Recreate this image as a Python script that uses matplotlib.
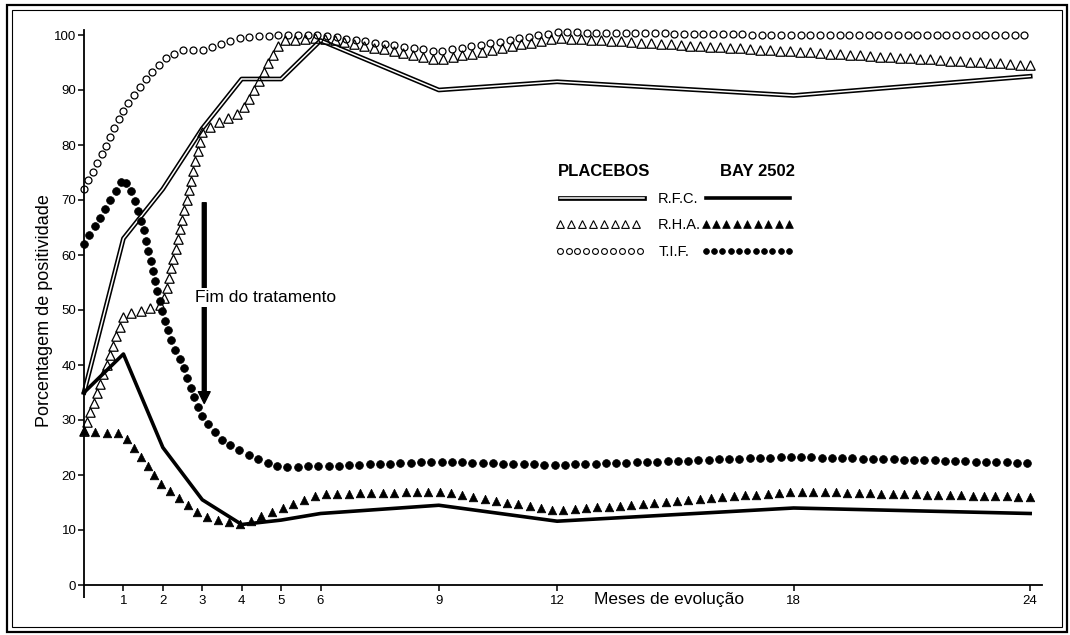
import numpy as np
import matplotlib
matplotlib.use('Agg')
import matplotlib.pyplot as plt
from matplotlib import patheffects
from matplotlib.lines import Line2D
from matplotlib.markers import MarkerStyle
from matplotlib.path import Path
from matplotlib.patches import Rectangle
from matplotlib.transforms import IdentityTransform

plt.rcParams['font.family'] = ['Liberation Sans', 'DejaVu Sans']

# values: months after start -> % positive
rfc_placebo_months = [0, 1, 2, 3, 4, 5, 6, 9, 12, 18, 24]
rfc_placebo = [35, 63, 72, 83, 92, 92, 99, 90, 91.5, 89, 92.5]

rfc_bay_months = [0, 1, 2, 3, 4, 5, 6, 9, 12, 18, 24]
rfc_bay = [35, 42, 25, 15.5, 11, 11.8, 13, 14.5, 11.6, 14, 13]

rha_placebo_months = [0, 1, 2, 3, 3.5, 4, 5, 6, 9, 12, 18, 24]
rha_placebo = [28, 49, 51, 82.5, 84.5, 86, 99, 99.5, 95.5, 99.5, 97, 94.5]

rha_bay_months = [0, 1, 2, 3, 4, 5, 6, 9, 12, 18, 24]
rha_bay = [28, 27.5, 18, 12.5, 11, 14, 16.5, 17, 13.5, 17, 16]

tif_placebo_months = [0, 0.5, 1, 1.5, 2, 2.5, 3, 4, 5, 6, 9, 12, 18, 24]
tif_placebo = [72, 79, 86.5, 91.5, 95.5, 97.3, 97.3, 99.6, 100, 100, 97, 100.5, 100, 100]

tif_bay_months = [0, 1, 1.25, 1.5, 1.75, 2, 2.25, 2.5, 2.75, 3, 3.5, 4, 4.5, 5, 6, 9, 12, 18, 24]
tif_bay = [62, 74, 71, 65, 57, 49, 43.8, 40, 35, 30.5, 26.3, 24.3, 22.6, 21.5, 21.6, 22.4, 21.8, 23.3, 22.2]

xticks = [1, 2, 3, 4, 5, 6, 9, 12, 18, 24]
yticks = list(range(0, 101, 10))


class MarkerTrail(patheffects.AbstractPathEffect):
    # puts a marker every `step` points along the line (the old plotter look)
    def __init__(self, marker, size, step, fill=None, lw=0.8):
        super().__init__()
        self.marker = MarkerStyle(marker)
        self.size = size
        self.step = step
        self.fill = fill
        self.lw = lw

    def draw_path(self, renderer, gc, tpath, affine, rgbFace=None):
        xy = affine.transform(tpath.vertices)
        d = np.r_[0, np.cumsum(np.hypot(*np.diff(xy, axis=0).T))]
        s = np.arange(0, d[-1] + 0.5, renderer.points_to_pixels(self.step))
        pts = np.column_stack([np.interp(s, d, xy[:, 0]), np.interp(s, d, xy[:, 1])])
        w = renderer.points_to_pixels(self.size)
        trans = self.marker.get_transform().scale(w, w)
        gc0 = renderer.new_gc()
        gc0.copy_properties(gc)
        gc0.set_linewidth(self.lw)
        gc0.set_foreground('black')
        gc0.set_joinstyle('miter')
        renderer.draw_markers(gc0, self.marker.get_path(), trans, Path(pts),
                              IdentityTransform(), self.fill)
        gc0.restore()


double_line = [patheffects.Stroke(linewidth=3.4, foreground='black'),
               patheffects.Stroke(linewidth=1.1, foreground='white')]

fig = plt.figure(figsize=(10.7, 6.35), dpi=100)
ax = fig.add_axes([84 / 1070, 50 / 635, 958 / 1070, 555.5 / 635])

ax.plot(rfc_placebo_months, rfc_placebo, color='black', lw=3.4,
        path_effects=double_line, clip_on=False)
ax.plot(rfc_bay_months, rfc_bay, color='black', lw=2.6, clip_on=False)
ax.plot(rha_placebo_months, rha_placebo, clip_on=False,
        path_effects=[MarkerTrail('^', 6.8, 7.2, None, 0.9)])
ax.plot(rha_bay_months, rha_bay, clip_on=False,
        path_effects=[MarkerTrail('^', 6.2, 8.2, (0, 0, 0), 0.5)])
ax.plot(tif_placebo_months, tif_placebo, clip_on=False,
        path_effects=[MarkerTrail('o', 5.0, 7.0, None, 0.9)])
ax.plot(tif_bay_months, tif_bay, clip_on=False,
        path_effects=[MarkerTrail('o', 5.6, 7.4, (0, 0, 0), 0.5)])

# end of treatment arrow
ax.annotate('', xy=(3.05, 33), xytext=(3.05, 69.5),
            arrowprops=dict(facecolor='black', edgecolor='black', width=2.8,
                            headwidth=8.5, headlength=8.5, shrink=0))
ax.text(2.82, 52.2, 'Fim do tratamento', fontsize=12.5, ha='left', va='center',
        bbox=dict(facecolor='white', edgecolor='none', pad=1.5), zorder=5)

# legend
handles = [
    Line2D([], [], color='black', lw=3.4, path_effects=double_line),
    Line2D([], [], path_effects=[MarkerTrail('^', 5.6, 7.9, None, 0.8)]),
    Line2D([], [], path_effects=[MarkerTrail('o', 4.2, 6.4, None, 0.8)]),
    Line2D([], [], color='black', lw=2.6),
    Line2D([], [], path_effects=[MarkerTrail('^', 5.6, 7.5, (0, 0, 0), 0.5)]),
    Line2D([], [], path_effects=[MarkerTrail('o', 4.2, 6.0, (0, 0, 0), 0.5)]),
]
ax.legend(handles, ['R.F.C.', 'R.H.A.', 'T.I.F.', ' ', ' ', ' '], ncol=2,
          frameon=False, fontsize=10.5, handlelength=5.76, handletextpad=1.0,
          columnspacing=0.3, labelspacing=0.86, borderpad=0, borderaxespad=0,
          loc='upper left', bbox_to_anchor=(0.4965, 0.708))
ax.text(12.02, 75.1, 'PLACEBOS', fontsize=12, fontweight='bold', va='center')
ax.text(18.04, 75.1, 'BAY 2502', fontsize=12, fontweight='bold', va='center', ha='right')

ax.set_xlim(0, 24.3)
ax.set_ylim(0, 101)
ax.set_xticks(xticks)
ax.set_yticks(yticks)
ax.set_xticks([0], minor=True)
for side in ['top', 'right']:
    ax.spines[side].set_visible(False)
for side in ['left', 'bottom']:
    ax.spines[side].set_linewidth(1.3)
ax.tick_params(axis='both', direction='out', length=4.5, width=1.1, labelsize=9.5)
ax.tick_params(axis='y', pad=1)
ax.tick_params(axis='x', pad=2.5)
ax.tick_params(axis='x', which='minor', length=9.5, width=1.3)

ax.set_xlabel('Meses de evolução', fontsize=12.5)
ax.xaxis.set_label_coords(14.85 / 24.3, -0.027)
ax.xaxis.label.set_va('center')
fig.text(44.5 / 1070, 1 - 311 / 635, 'Porcentagem de positividade', rotation=90,
         ha='center', va='center', fontsize=13)

# double frame around the figure
fig.add_artist(Rectangle((7 / 1070, 3 / 635), 1060 / 1070, 627 / 635,
                         transform=fig.transFigure, fill=False, lw=1.6, ec='black'))
fig.add_artist(Rectangle((12 / 1070, 8 / 635), 1050 / 1070, 617 / 635,
                         transform=fig.transFigure, fill=False, lw=0.8, ec='black'))

fig.savefig('out.png', dpi=100)
